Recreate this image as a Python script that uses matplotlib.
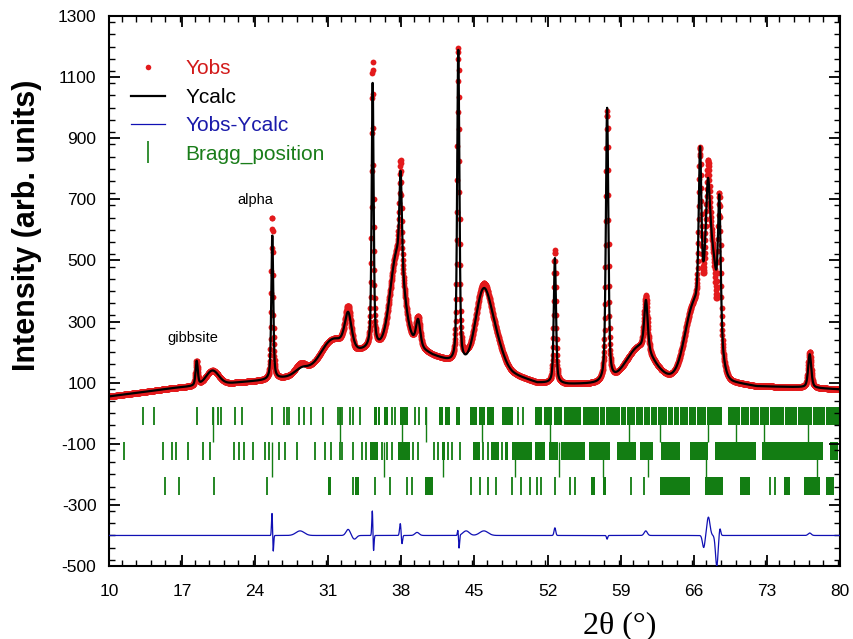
import matplotlib
matplotlib.use('Agg')
import matplotlib.pyplot as plt
from matplotlib.lines import Line2D
from matplotlib.ticker import MultipleLocator
import numpy as np

plt.rcParams['font.family'] = ['Liberation Sans', 'DejaVu Sans']
plt.rcParams['axes.unicode_minus'] = False

# background (2theta, intensity)
bkg_x = [10, 13, 16, 19, 22, 25, 27, 29, 31, 33, 35, 37, 39, 41, 43, 45, 47, 49, 51, 54, 57, 60, 63, 66, 69, 72, 76, 80]
bkg_y = [55, 68, 82, 92, 100, 108, 118, 132, 158, 188, 212, 228, 225, 190, 165, 155, 140, 125, 100, 95, 97, 102, 112, 115, 105, 88, 85, 78]

# peaks: position, height above background, fwhm, lorentz fraction
peak_pos = [18.4, 19.9, 25.64, 28.5, 31.3, 32.9, 35.25, 37.6, 37.93, 39.6, 43.45, 45.8, 47.0,
            52.7, 57.7, 60.8, 61.42, 66.0, 67.7, 66.6, 67.35, 68.45, 77.1]
peak_h = [80, 45, 470, 20, 75, 120, 870, 290, 310, 90, 1030, 230, 90,
          410, 895, 110, 165, 230, 380, 500, 260, 425, 110]
peak_w = [0.25, 1.4, 0.22, 1.5, 2.5, 0.8, 0.22, 1.5, 0.28, 0.5, 0.25, 1.7, 1.8,
          0.25, 0.28, 3.0, 0.4, 2.0, 1.4, 0.3, 0.45, 0.3, 0.35]
peak_eta = [0.5, 0.0, 0.5, 0.0, 0.0, 0.5, 0.5, 0.0, 0.5, 0.5, 0.5, 0.0, 0.0,
            0.5, 0.5, 0.0, 0.5, 0.0, 0.0, 0.5, 0.5, 0.5, 0.5]

# misfit Yobs - Ycalc: position, amplitude, sigma
res_pos = [25.62, 25.72, 28.3, 32.9, 33.5, 35.22, 35.33, 37.9, 38.05, 39.5, 43.42, 43.52,
           44.2, 45.9, 52.7, 57.7, 61.4, 66.95, 67.4, 68.2, 68.5, 77.1]
res_amp = [80, -60, 15, 20, -12, 85, -55, 40, -30, 10, 20, -45,
           15, 15, 25, -12, 15, -40, 60, -100, 25, 8]
res_sig = [0.05, 0.05, 0.4, 0.2, 0.2, 0.05, 0.05, 0.07, 0.06, 0.2, 0.05, 0.05,
           0.3, 0.4, 0.08, 0.06, 0.15, 0.12, 0.15, 0.12, 0.08, 0.15]

# Bragg positions, three phases (single ticks, dense blocks, long ticks)
row1_ticks = [13.3, 14.34, 18.46, 19.93, 20.47, 20.72, 22.07, 22.77, 25.58, 26.76, 27.0, 27.27,
              28.2, 28.7, 29.34, 30.5, 31.96, 32.1, 32.3, 33.08, 33.4, 34.04, 37.1, 37.4,
              39.3, 39.7, 40.4, 49.2, 49.6]
row1_blocks = [(35.4, 35.7), (35.8, 35.95), (36.3, 36.7), (37.9, 38.6), (41.6, 42.0), (42.2, 42.7),
               (43.2, 43.6), (44.6, 45.2), (45.4, 46.0), (46.2, 46.9), (47.6, 48.7), (50.8, 51.5),
               (51.7, 52.4), (52.6, 53.4), (53.6, 55.2), (55.4, 56.9), (57.0, 57.5), (57.6, 58.9),
               (59.0, 59.5), (59.6, 60.4), (60.5, 61.1), (61.2, 61.8), (61.9, 62.5), (62.6, 63.4),
               (63.5, 64.0), (64.1, 64.6), (64.7, 65.4), (65.5, 66.2), (66.3, 67.2), (67.3, 68.7),
               (69.3, 70.4), (70.5, 71.3), (71.4, 72.2), (72.3, 73.2), (73.3, 74.6), (74.7, 75.9),
               (76.0, 77.3), (77.4, 78.6), (78.7, 80.0)]
row1_long = [19.93, 32.1, 38.1, 40.4, 45.7, 52.2, 59.8, 62.8, 67.4, 70.0, 72.7, 76.9]

row2_ticks = [11.44, 15.2, 16.0, 16.4, 17.6, 19.0, 19.67, 22.0, 22.45, 22.9, 23.8, 24.9,
              25.3, 26.3, 26.85, 28.0, 29.7, 30.7, 31.25, 32.1, 32.35, 33.4, 34.2, 34.6,
              36.1, 36.6, 37.1, 39.1, 39.6, 41.1, 41.5, 42.5, 42.8, 43.6, 45.8, 46.3, 47.6]
row2_blocks = [(35.0, 35.8), (37.7, 38.8), (41.9, 42.2), (44.9, 45.5), (46.6, 47.3), (47.9, 48.2),
               (48.6, 50.5), (50.8, 51.8), (52.1, 53.0), (53.3, 55.6), (56.0, 58.0), (58.6, 60.5),
               (60.85, 62.1), (62.9, 64.7), (65.6, 67.4), (68.0, 72.0), (72.5, 78.4), (79.0, 79.8)]
row2_long = [25.65, 36.3, 42.0, 48.9, 53.1, 57.3, 61.6, 67.2, 77.8]

row3_ticks = [15.36, 16.7, 20.1, 25.1, 33.4, 35.5, 36.9, 38.5, 39.0, 44.7, 45.5, 46.3,
              47.1, 48.6, 49.5, 50.3, 51.0, 51.4, 52.7, 54.1, 54.6, 56.4, 60.0, 61.2,
              73.3, 73.8, 80.0]
row3_blocks = [(31.0, 31.3), (33.6, 33.9), (40.3, 41.0), (56.2, 56.5), (57.3, 57.6), (62.8, 65.6),
               (67.1, 68.8), (70.4, 71.4), (74.6, 75.2), (76.6, 78.1), (78.7, 79.4)]

x_ticks = [10, 17, 24, 31, 38, 45, 52, 59, 66, 73, 80]
y_ticks = [-500, -300, -100, 100, 300, 500, 700, 900, 1100, 1300]
diff_offset = -400


def pv(x, c, h, w, eta):
    g = np.exp(-4 * np.log(2) * ((x - c) / w) ** 2)
    l = 1 / (1 + 4 * ((x - c) / w) ** 2)
    return h * (eta * l + (1 - eta) * g)


tth = np.arange(10, 80.001, 0.02)
ycalc = np.interp(tth, bkg_x, bkg_y)
for c, h, w, e in zip(peak_pos, peak_h, peak_w, peak_eta):
    ycalc = ycalc + pv(tth, c, h, w, e)
diff = np.zeros_like(tth)
for c, a, s in zip(res_pos, res_amp, res_sig):
    diff = diff + a * np.exp(-0.5 * ((tth - c) / s) ** 2)
yobs = ycalc + diff

fig = plt.figure(figsize=(8.54, 6.39), dpi=100)
ax = fig.add_axes([0.1276, 0.1142, 0.8560, 0.8608])

ax.plot(tth, yobs, 'o', color='#e31a1c', ms=4.2, mew=0, zorder=2)
ax.plot(tth, ycalc, '-', color='black', lw=1.6, zorder=3)
ax.plot(tth, diff + diff_offset, '-', color='#1010b4', lw=0.9, zorder=3)

green = '#137d13'
rows = [(row1_ticks, row1_blocks, row1_long, -38, 20, -93),
        (row2_ticks, row2_blocks, row2_long, -152, -93, -208),
        (row3_ticks, row3_blocks, [], -267, -208, None)]
for ticks, blocks, longs, lo, hi, lo_long in rows:
    ax.vlines(ticks, lo, hi, color=green, lw=1.3)
    ax.broken_barh([(a, b - a) for a, b in blocks], (lo, hi - lo), facecolors=green, edgecolors='none')
    if longs:
        ax.vlines(longs, lo_long, hi, color=green, lw=1.0)

ax.text(18.0, 222, 'gibbsite', fontsize=10.5, ha='center', va='bottom')
ax.text(24.0, 676, 'alpha', fontsize=10.5, ha='center', va='bottom')

ax.set_xlim(10, 80)
ax.set_ylim(-500, 1300)
ax.set_xticks(x_ticks)
ax.set_yticks(y_ticks)
ax.xaxis.set_minor_locator(MultipleLocator(1.4))
ax.yaxis.set_minor_locator(MultipleLocator(40))
ax.tick_params(which='both', direction='in', top=True, right=True, labelsize=12.5)
ax.tick_params(axis='x', which='major', pad=13)
ax.tick_params(axis='y', which='major', pad=9)
ax.tick_params(which='major', length=8, width=1.3)
ax.tick_params(which='minor', length=4.5, width=1.0)
for s in ax.spines.values():
    s.set_linewidth(1.5)

ax.set_ylabel('Intensity (arb. units)', fontsize=22, fontweight='bold')
ax.yaxis.set_label_coords(-0.091, 0.62)
ax.set_xlabel('2θ (°)', fontsize=23, family=['Liberation Serif', 'DejaVu Serif'])
ax.xaxis.set_label_coords(0.699, -0.082)

handles = [Line2D([], [], ls='none', marker='o', ms=4, color='#e31a1c', mew=0),
           Line2D([], [], color='black', lw=1.6),
           Line2D([], [], color='#1010b4', lw=0.9),
           Line2D([], [], ls='none', marker='|', ms=16, mew=1.2, color=green)]
ax.legend(handles, ['Yobs', 'Ycalc', 'Yobs-Ycalc', 'Bragg_position'], loc='upper left',
          bbox_to_anchor=(0.005, 0.955), frameon=False, fontsize=15, handlelength=1.6,
          handletextpad=1.0, labelspacing=0.45,
          labelcolor=['#d21a1a', 'black', '#1a1aaa', '#1a7d1a'])

fig.savefig('out.png', dpi=100)
